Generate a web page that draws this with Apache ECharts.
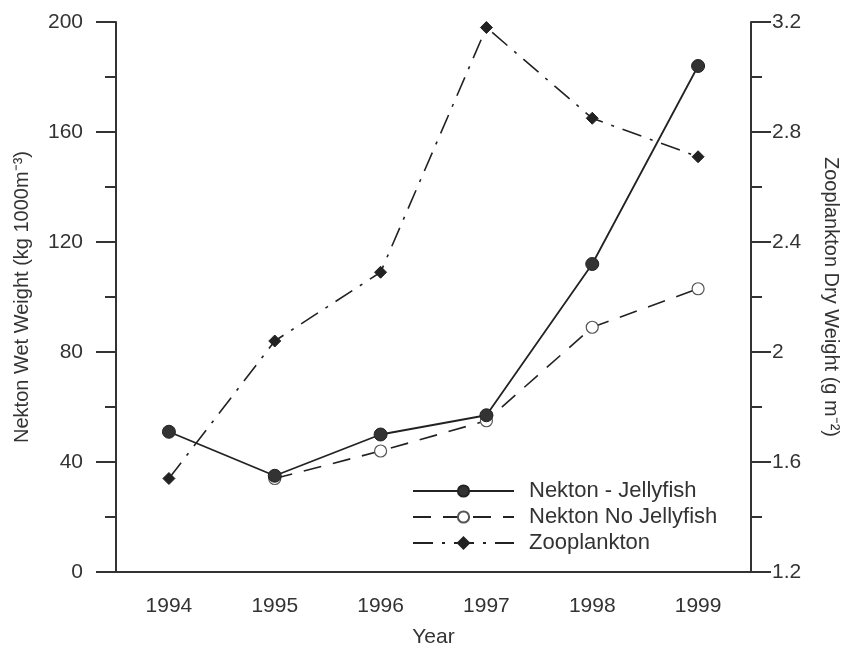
<!DOCTYPE html>
<html>
<head>
<meta charset="utf-8">
<script src="https://cdn.jsdelivr.net/npm/echarts@6/dist/echarts.min.js"></script>
<style>
  html, body { margin: 0; padding: 0; background: #fff; }
  #chart { width: 852px; height: 650px; }
</style>
</head>
<body>
<div id="chart"></div>
<script>
// data
var years = ['1994', '1995', '1996', '1997', '1998', '1999'];
var nektonJelly = [51, 35, 50, 57, 112, 184];
var nektonNoJelly = [null, 34, 44, 55, 89, 103];
var zooplankton = [1.54, 2.04, 2.29, 3.18, 2.85, 2.71];

var font = 'Liberation Sans, Arial, sans-serif';
var axisColor = '#333';
var inkColor = '#222';

var chart = echarts.init(document.getElementById('chart'));

var yAxisCommon = {
    type: 'value',
    axisLine: { show: true, lineStyle: { color: axisColor, width: 2 } },
    axisTick: { show: true, length: 20, lineStyle: { color: axisColor, width: 2 } },
    minorTick: { show: true, splitNumber: 2, length: 11, lineStyle: { color: axisColor, width: 2 } },
    splitLine: { show: false },
    nameLocation: 'middle',
    nameTextStyle: { color: '#333', fontSize: 20, fontFamily: font }
};

var option = {
    backgroundColor: '#fff',
    animation: false,
    grid: { left: 116, right: 101, top: 22, bottom: 78, outerBoundsMode: 'none' },
    xAxis: {
        type: 'category',
        data: years,
        boundaryGap: true,
        name: 'Year',
        nameLocation: 'middle',
        nameGap: 55,
        nameTextStyle: { color: '#333', fontSize: 21, fontFamily: font },
        axisLine: { lineStyle: { color: axisColor, width: 2 } },
        axisTick: { alignWithLabel: true, length: 20, lineStyle: { color: axisColor, width: 2 } },
        axisLabel: { color: '#333', fontSize: 21, fontFamily: font, margin: 24 }
    },
    yAxis: [
        Object.assign({}, yAxisCommon, {
            position: 'left',
            min: 0, max: 200, interval: 40,
            name: 'Nekton Wet Weight (kg 1000m⁻³)',
            nameGap: 84,
            axisLabel: { color: '#333', fontSize: 21, fontFamily: font, margin: 33 }
        }),
        Object.assign({}, yAxisCommon, {
            position: 'right',
            min: 1.2, max: 3.2, interval: 0.4,
            name: 'Zooplankton Dry Weight (g m⁻²)',
            nameRotate: -90,
            nameGap: 70,
            axisLabel: {
                color: '#333', fontSize: 21, fontFamily: font, margin: 21,
                formatter: function (v) { return String(+v.toFixed(1)); }
            }
        })
    ],
    legend: {
        orient: 'vertical',
        left: 407,
        top: 475,
        itemWidth: 101,
        itemHeight: 14,
        itemGap: 4,
        textStyle: { color: '#333', fontSize: 22, fontFamily: font, padding: [0, 0, 0, 10] },
        data: ['Nekton - Jellyfish', 'Nekton No Jellyfish', 'Zooplankton']
    },
    series: [
        {
            name: 'Nekton - Jellyfish',
            type: 'line',
            yAxisIndex: 0,
            data: nektonJelly,
            symbol: 'circle',
            symbolSize: 13,
            lineStyle: { color: inkColor, width: 1.8, type: 'solid' },
            itemStyle: { color: '#333', borderColor: '#222', borderWidth: 1 },
            z: 3
        },
        {
            name: 'Nekton No Jellyfish',
            type: 'line',
            yAxisIndex: 0,
            data: nektonNoJelly,
            symbol: 'circle',
            symbolSize: 12,
            lineStyle: { color: inkColor, width: 1.6, type: [18, 12] },
            itemStyle: { color: '#fff', borderColor: '#555', borderWidth: 1.2 },
            z: 2
        },
        {
            name: 'Zooplankton',
            type: 'line',
            yAxisIndex: 1,
            data: zooplankton,
            symbol: 'diamond',
            symbolSize: 12,
            lineStyle: { color: inkColor, width: 1.6, type: [20, 9, 3, 9] },
            itemStyle: { color: '#222', borderColor: '#222', borderWidth: 1 },
            z: 2
        }
    ]
};

chart.setOption(option);
</script>
</body>
</html>
